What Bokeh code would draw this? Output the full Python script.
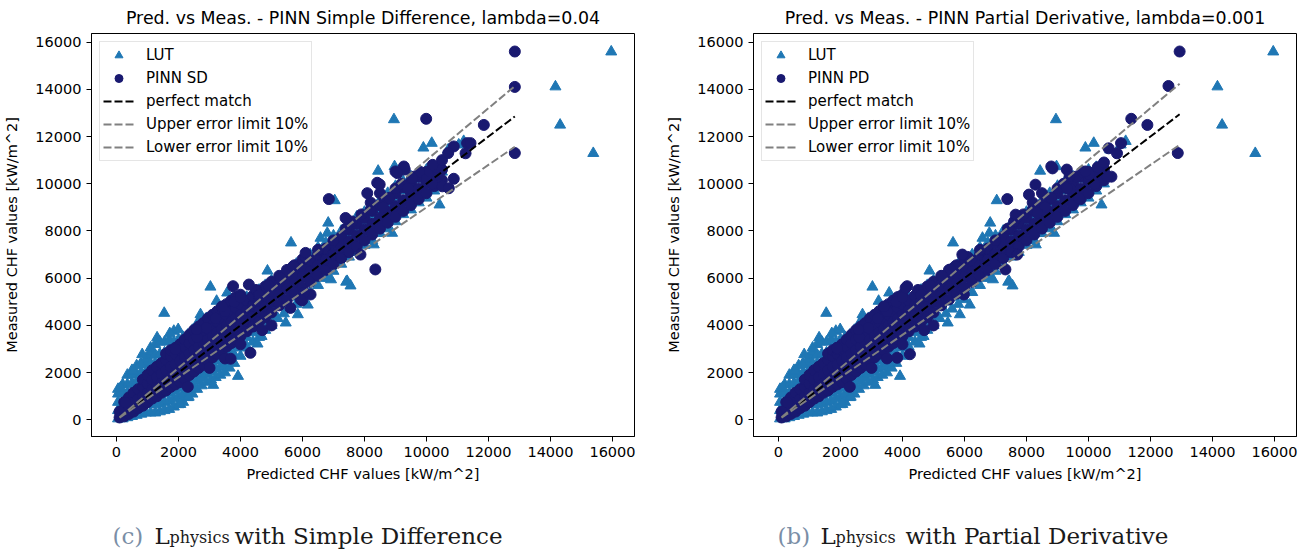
from bokeh.plotting import figure
from bokeh.models import Range1d, FixedTicker, Legend
from bokeh.layouts import row, column
from bokeh.core.properties import value
from bokeh.embed import file_html
from bokeh.resources import INLINE

# ---------------- data ----------------
titles = ["Pred. vs Meas. - PINN Simple Difference, lambda=0.04",
          "Pred. vs Meas. - PINN Partial Derivative, lambda=0.001"]
pinn_names = ["PINN SD", "PINN PD"]
ticks = [0, 2000, 4000, 6000, 8000, 10000, 12000, 14000, 16000]

# LUT predictions (shared by both panels): predicted x -> measured y values
lut_band = {
    50: [50, 400, 750, 1100, 1300],
    200: [50, 400, 750, 1100, 1500],
    350: [100, 450, 800, 1150, 1500, 1900],
    500: [150, 500, 850, 1200, 1550, 1900, 2100],
    650: [200, 550, 900, 1250, 1600, 1950, 2300],
    800: [250, 600, 950, 1300, 1650, 2000, 2350],
    950: [300, 650, 1000, 1350, 1700, 2050, 2400, 2600],
    1100: [300, 650, 1000, 1350, 1700, 2050, 2400, 2750, 2900],
    1250: [300, 650, 1000, 1350, 1700, 2050, 2400, 2750, 3200],
    1400: [350, 700, 1050, 1400, 1750, 2100, 2450, 2800, 3300],
    1550: [400, 750, 1100, 1450, 1800, 2150, 2500, 2850, 3300],
    1700: [450, 800, 1150, 1500, 1850, 2200, 2550, 2900, 3400],
    1850: [550, 900, 1250, 1600, 1950, 2300, 2650, 3000, 3300],
    2000: [650, 1000, 1350, 1700, 2050, 2400, 2750, 3100, 3400],
    2150: [750, 1100, 1450, 1800, 2150, 2500, 2850, 3200, 3500],
    2300: [950, 1300, 1650, 2000, 2350, 2700, 3050, 3400, 3600],
    2450: [1100, 1450, 1800, 2150, 2500, 2850, 3200, 3550, 3800],
    2600: [1300, 1650, 2000, 2350, 2700, 3050, 3400, 3700, 4000],
    2750: [1450, 1800, 2150, 2500, 2850, 3200, 3550, 3900, 4200],
    2900: [1600, 1950, 2300, 2650, 3000, 3350, 3700, 4300],
    3050: [1700, 2050, 2400, 2750, 3100, 3450, 3800, 4400],
    3200: [1800, 2150, 2500, 2850, 3200, 3550, 3900, 4500],
    3350: [1900, 2250, 2600, 2950, 3300, 3650, 4000, 4700],
    3500: [2000, 2350, 2700, 3050, 3400, 3750, 4100, 4800],
    3650: [2200, 2550, 2900, 3250, 3600, 3950, 4300, 4900],
    3800: [2400, 2750, 3100, 3450, 3800, 4150, 4500, 5000],
    4000: [2700, 3050, 3400, 3750, 4100, 4450, 5100],
    4200: [3100, 3500, 3900, 4300, 4700, 5200],
    4400: [3300, 3700, 4100, 4500, 4900, 5300],
    4600: [3500, 3900, 4300, 4700, 5100, 5500],
    4800: [3800, 4200, 4600, 5000, 5400, 5700],
    5000: [4000, 4400, 4800, 5200, 5600, 5900],
    5200: [4300, 4800, 5500, 6000], 5400: [4500, 5000, 5700, 6200],
    5600: [4700, 5200, 5900, 6400], 5800: [4900, 5400, 6100, 6600],
    6000: [5100, 5600, 6300, 6800], 6250: [5400, 5900, 6500, 7000],
    6500: [5700, 6200, 6800, 7300], 6750: [6000, 6500, 7100, 7500],
    7000: [6300, 6800, 7300, 7800], 7250: [6600, 7100, 7600, 8000],
    7500: [6900, 7400, 7900, 8300], 7750: [7100, 7600, 8100, 8600],
    8000: [7400, 7900, 8400, 8800], 8250: [7600, 8100, 8600, 9100],
    8500: [7900, 8400, 8900, 9300], 8750: [8100, 8600, 9100, 9600],
    9000: [8400, 8900, 9400, 9900], 9250: [8700, 9200, 9700, 10100],
    9500: [8900, 9400, 9900, 10300], 9750: [9200, 9700, 10200],
    10000: [9400, 9900, 10400], 10250: [9700, 10200, 10700],
    10500: [10000, 10500],
}
lut_outliers = [
    (15960, 15590), (14160, 14110), (14310, 12490), (15380, 11290), (8950, 12720),
    (9900, 11520), (10170, 11720), (10700, 11440), (11040, 11650), (11200, 11800),
    (8440, 10540), (8970, 10730), (10000, 10590), (10420, 9110), (7040, 9290),
    (6830, 8340), (5630, 7500), (4870, 6310), (3030, 5630), (1540, 4520),
    (6920, 5940), (7410, 5840), (7550, 5680), (6170, 4870), (5850, 4460),
    (5460, 4110), (4680, 3540), (4550, 3220), (3920, 1850), (3120, 1470),
    (3520, 2420), (2330, 970), (2060, 660), (8300, 7420), (8890, 7910),
    (6800, 7910), (6580, 7700), (6850, 6010), (7440, 5870), (3570, 5380),
    (3230, 5030), (2710, 4460), (2650, 4180), (1850, 3760), (1990, 3830),
    (1720, 3660), (1310, 3480), (1100, 3050), (830, 2770), (770, 2350),
    (540, 2070), (130, 1360),
]

# PINN predictions: common core of both models
pinn_core = {
    100: [100, 350], 250: [150, 450, 750], 400: [250, 600, 950],
    550: [350, 750, 1150], 700: [500, 900, 1300], 850: [600, 1000, 1400, 1700],
    1000: [750, 1150, 1550, 1900], 1150: [900, 1300, 1700, 2100],
    1300: [1000, 1400, 1800, 2250], 1450: [1150, 1550, 1950, 2400],
    1600: [1250, 1650, 2100, 2550, 2800], 1750: [1400, 1800, 2250, 2700, 2950],
    1900: [1500, 1900, 2350, 2800, 3050], 2050: [1600, 2050, 2500, 2950, 3200],
    2200: [1750, 2200, 2650, 3100, 3400], 2350: [1900, 2350, 2800, 3250, 3600],
    2500: [2050, 2500, 2950, 3400, 3800], 2650: [2200, 2650, 3100, 3550, 3950],
    2800: [2350, 2800, 3250, 3700, 4100], 2950: [2500, 2950, 3400, 3850, 4300],
    3100: [2650, 3100, 3550, 4000, 4450], 3250: [2800, 3250, 3700, 4150, 4600],
    3400: [2950, 3400, 3850, 4300, 4750], 3550: [3100, 3550, 4000, 4450, 4900],
    3700: [3250, 3700, 4150, 4600, 5050], 3850: [3400, 3850, 4300, 4750, 5200],
    4000: [3550, 4000, 4450, 4900, 5300], 4200: [3750, 4200, 4650, 5050],
    4400: [3950, 4400, 4850, 5250], 4600: [4150, 4600, 5050, 5450],
    4800: [4350, 4800, 5250, 5650], 5000: [4550, 5000, 5450, 5850],
    5250: [4850, 5300, 5750, 6100], 5500: [5100, 5550, 6000, 6350],
    5750: [5350, 5800, 6250, 6550], 6000: [5600, 6050, 6500, 6800],
    6250: [5850, 6300, 6750], 6500: [6100, 6550, 7000],
    6750: [6350, 6800, 7250], 7000: [6600, 7050, 7500],
    7250: [6850, 7300, 7750], 7500: [7100, 7550, 8050],
    7750: [7350, 7800, 8300], 8000: [7600, 8050, 8550],
    8250: [7850, 8300, 8850], 8500: [8100, 8550, 9100],
    8750: [8350, 8800, 9350], 9000: [8600, 9050, 9600],
    9250: [8850, 9300, 9850], 9500: [9100, 9550, 10050],
    9750: [9350, 9800, 10300], 10000: [9600, 10050, 10500],
    10250: [9900, 10350], 10500: [10150, 10600],
}
pinn_core_extra = [
    (2600, 3500), (2900, 3900), (3200, 4300), (3500, 4600), (3400, 4800),
    (3800, 5000), (4000, 5200), (4500, 5500), (2580, 3830), (1900, 2990),
    (7600, 8400), (7900, 8700), (8200, 8900), (8600, 9000), (8800, 9400),
    (9000, 9800), (9200, 10000), (9400, 9800), (9600, 10300), (9800, 10500),
    (9300, 10600), (10000, 10200), (10200, 10000), (8500, 9600), (8200, 9200),
    (7400, 8100), (7000, 7600), (6500, 7200), (6100, 6900), (5700, 6500),
    (5300, 6000), (4900, 5700), (4600, 5300), (2300, 1400), (3000, 2200),
    (3500, 2600), (4000, 3200), (4700, 3800), (5000, 4000), (290, 730),
]
pinn_sd_extra = [
    (12850, 15600), (12850, 14100), (12850, 11300), (9990, 12750), (11850, 12490),
    (10880, 11580), (11310, 11720), (11420, 11720), (11260, 11290), (9270, 10730),
    (9000, 10520), (9540, 10240), (10880, 10210), (10510, 9890), (10720, 9810),
    (10110, 10520), (10340, 10590), (8410, 10040), (8090, 9600), (6850, 9350),
    (8350, 6370), (7390, 8550), (7870, 7000), (6260, 5310), (6100, 7070),
    (5990, 5060), (5610, 4740), (3760, 5660), (4270, 5730), (4320, 2840),
    (3680, 2590), (6040, 5380), (5940, 5100), (9060, 10450), (8490, 9970),
    (10300, 10700), (10500, 11000), (10700, 11300), (10200, 10800),
]
pinn_pd_extra = [
    (12940, 15600), (12580, 14140), (12880, 11300), (11380, 12750), (11900, 12490),
    (11050, 11720), (10650, 11500), (10920, 11290), (8840, 10650), (8800, 10730),
    (9390, 10310), (10030, 10400), (10740, 10300), (8290, 9960), (8080, 9540),
    (7380, 9350), (9900, 10520), (10440, 10520), (10600, 10310), (9310, 9810),
    (9690, 9390), (7650, 8690), (8350, 8760), (7320, 6370), (5930, 7000),
    (7700, 7000), (5550, 6370), (5280, 6080), (4150, 5660), (4100, 5590),
    (5980, 5310), (3830, 2630), (4240, 2780), (1890, 3050), (10300, 10700),
    (10500, 10900),
]
error_limit = 0.10

# ---------------- helpers ----------------
def expand(band, extra):
    xs, ys = [], []
    for x, yl in band.items():
        for y in yl:
            xs.append(x); ys.append(y)
    for x, y in extra:
        xs.append(x); ys.append(y)
    return xs, ys

lut_x, lut_y = expand(lut_band, lut_outliers)
sd_x, sd_y = expand(pinn_core, pinn_core_extra + pinn_sd_extra)
pd_x, pd_y = expand(pinn_core, pinn_core_extra + pinn_pd_extra)

FONT = "DejaVu Sans"
LUT_C = "#1f77b4"
PINN_C = "#191970"


def make_panel(title, pname, px, py, width, left, right):
    p = figure(width=width, height=495, output_backend="svg", toolbar_location=None,
               x_range=Range1d(-806, 16710), y_range=Range1d(-705, 16363),
               min_border_left=left, min_border_right=right,
               min_border_top=32, min_border_bottom=59, title=title)
    p.title.text_font = FONT
    p.title.text_font_size = "17.4px"
    p.title.text_font_style = "normal"
    p.title.text_color = "black"
    p.title.align = "center"
    p.title.standoff = 11
    p.grid.visible = False
    p.outline_line_color = "black"
    p.outline_line_alpha = 1
    p.outline_line_width = 1
    for ax in (p.xaxis[0], p.yaxis[0]):
        ax.ticker = FixedTicker(ticks=ticks)
        ax.minor_tick_line_color = None
        ax.major_tick_in = 0
        ax.major_tick_out = 5
        ax.major_tick_line_color = "black"
        ax.axis_line_color = "black"
        ax.major_label_text_font = FONT
        ax.major_label_text_font_size = "14.5px"
        ax.major_label_text_color = "black"
        ax.major_label_standoff = 5
        ax.axis_label_text_font = FONT
        ax.axis_label_text_font_size = "14.5px"
        ax.axis_label_text_font_style = "normal"
        ax.axis_label_text_color = "black"
    p.xaxis.axis_label = "Predicted CHF values [kW/m^2]"
    p.yaxis.axis_label = "Measured CHF values [kW/m^2]"
    p.xaxis.axis_label_standoff = 6
    p.yaxis.axis_label_standoff = 12

    r_lut = p.scatter(lut_x, lut_y, marker="triangle", size=11, color=LUT_C)
    r_p = p.scatter(px, py, marker="circle", size=11, color=PINN_C)
    lx = [min(px), max(px)]
    r_pm = p.line(lx, lx, line_color="black", line_width=2, line_dash="8 3")
    r_up = p.line(lx, [v * (1 + error_limit) for v in lx], line_color="grey",
                  line_width=2, line_dash="8 3")
    r_lo = p.line(lx, [v * (1 - error_limit) for v in lx], line_color="grey",
                  line_width=2, line_dash="8 3")
    leg = Legend(items=[("LUT", [r_lut]), (pname, [r_p]), ("perfect match", [r_pm]),
                        ("Upper error limit 10%", [r_up]),
                        ("Lower error limit 10%", [r_lo])],
                 location="top_left")
    leg.label_text_font = FONT
    leg.label_text_font_size = "15px"
    leg.label_text_color = "black"
    leg.glyph_width = 31
    leg.glyph_height = 20
    leg.spacing = 3
    leg.padding = 3
    leg.margin = 8
    leg.label_standoff = 12
    leg.border_line_color = "#cccccc"
    leg.background_fill_alpha = 0.8
    p.add_layout(leg, "center")
    return p


p1 = make_panel(titles[0], pinn_names[0], sd_x, sd_y, 650, 91, 16)
p2 = make_panel(titles[1], pinn_names[1], pd_x, pd_y, 657, 103, 11)

# ---------------- captions ----------------
cap_text = ["(c)", "L", "physics", "with Simple Difference",
            "(b)", "L", "physics", "with Partial Derivative"]
cap_x = [112, 154, 169, 234, 777, 820, 835, 905]
cap_y = [16, 16, 14, 16, 16, 16, 14, 16]
cap_size = ["23px", "23px", "16px", "23px", "23px", "23px", "16px", "23px"]
cap_color = ["#7a8ea6", "#1a1a1a", "#1a1a1a", "#1a1a1a",
             "#7a8ea6", "#1a1a1a", "#1a1a1a", "#1a1a1a"]

cap = figure(width=1307, height=56, output_backend="svg", toolbar_location=None,
             x_range=Range1d(0, 1307), y_range=Range1d(0, 56),
             x_axis_type=None, y_axis_type=None, min_border=0)
cap.grid.visible = False
cap.outline_line_color = None
cap.text(x=cap_x, y=cap_y, text=cap_text, text_font=value("DejaVu Serif"),
         text_font_size=cap_size, text_color=cap_color,
         text_baseline="alphabetic", text_align="left")

layout = column(row(p1, p2), cap)
open("out.html", "w").write(file_html(layout, INLINE))
